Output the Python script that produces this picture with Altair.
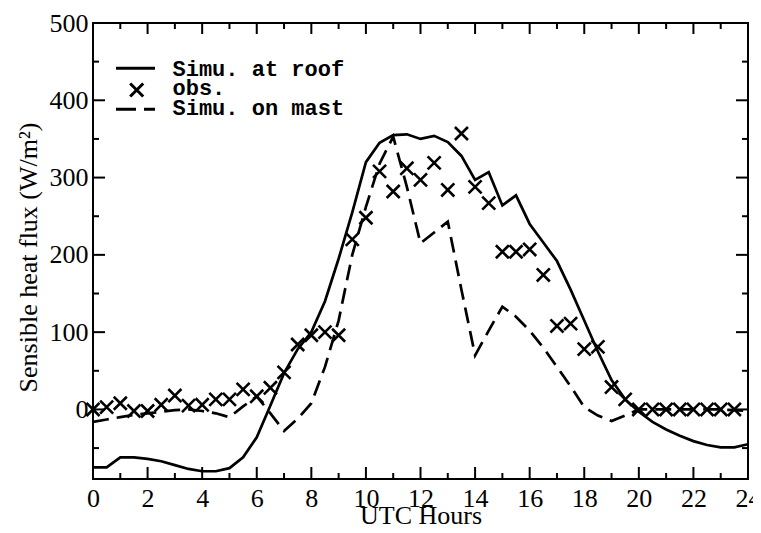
import altair as alt
import pandas as pd

# ---- data ----
hours = [0, 0.5, 1, 1.5, 2, 2.5, 3, 3.5, 4, 4.5, 5, 5.5, 6, 6.5, 7, 7.5, 8, 8.5,
         9, 9.5, 10, 10.5, 11, 11.5, 12, 12.5, 13, 13.5, 14, 14.5, 15, 15.5, 16,
         16.5, 17, 17.5, 18, 18.5, 19, 19.5, 20, 20.5, 21, 21.5, 22, 22.5, 23,
         23.5, 24]

roof = [-75, -75, -62, -62, -64, -67, -72, -77, -80, -80, -76, -62, -36, 5, 47,
        78, 100, 140, 195, 255, 320, 345, 355, 356, 350, 354, 346, 328, 297, 307,
        264, 277, 240, 216, 192, 155, 115, 75, 38, 13, -3, -16, -26, -34, -41,
        -46, -49, -49, -45]

mast = [-16, -13, -10, -7, -5, -3, -1, 0, -2, -5, -10, 4, 17, -5, -28, -12, 8,
        55, 115, 200, 262, 318, 353, 288, 215, 229, 243, 155, 70, 102, 133, 120,
        102, 80, 55, 30, 3, -8, -15, -8, 0, 0, 0, 0, 0, 0, 0, -1, -2]

obs_hours = hours[:-1]
obs = [0, 3, 8, -2, -2, 6, 18, 5, 6, 13, 13, 26, 17, 28, 48, 84, 96, 100, 96,
       220, 248, 308, 282, 312, 297, 319, 284, 357, 288, 267, 204, 204, 207,
       174, 108, 111, 78, 81, 29, 13, 0, 0, 0, 0, 0, 0, 0, 0]

series_names = ["Simu. at roof", "obs.", "Simu. on mast"]

x_major = [0, 2, 4, 6, 8, 10, 12, 14, 16, 18, 20, 22, 24]
x_minor = [1, 3, 5, 7, 9, 11, 13, 15, 17, 19, 21, 23]
y_major = [0, 100, 200, 300, 400, 500]
y_minor = [-50, 50, 150, 250, 350, 450]

W, H = 655, 456
SERIF = "Liberation Serif"
MONO = "Liberation Mono"
XPATH = "M-1,-1L1,1M-1,1L1,-1"
DASH = [20, 8]

xs = alt.Scale(domain=[0, 24], nice=False, zero=False)
ys = alt.Scale(domain=[-90, 500], nice=False, zero=False)

sim_df = pd.DataFrame({"hour": hours, "roof": roof, "mast": mast})
obs_df = pd.DataFrame({"hour": obs_hours, "flux": obs})

xaxis = alt.Axis(values=x_major, title="UTC Hours", ticks=False, domain=False,
                 grid=False, labelFont=SERIF, labelFontSize=26, labelColor="black",
                 labelPadding=6, labelFlush=False, labelOverlap=False,
                 titleFont=SERIF, titleFontSize=26, titleFontWeight="normal",
                 titleColor="black", titleBaseline="alphabetic", titleY=44)
yaxis = alt.Axis(values=y_major, title="Sensible heat flux (W/m\u00b2)", ticks=False,
                 domain=False, grid=False, labelFont=SERIF, labelFontSize=26,
                 labelColor="black", labelPadding=5, labelFlush=False,
                 labelOverlap=False, titleFont=SERIF, titleFontSize=26,
                 titleFontWeight="normal", titleColor="black",
                 titleBaseline="alphabetic", titleX=-57, titleY=234, titleAngle=-90)

base = alt.Chart(sim_df)

roof_line = base.mark_line(color="black", strokeWidth=2.7, clip=True).encode(
    x=alt.X("hour:Q", scale=xs, axis=xaxis),
    y=alt.Y("roof:Q", scale=ys, axis=yaxis),
)

mast_line = base.mark_line(color="black", strokeWidth=2.7, strokeDash=[16, 8],
                           clip=True).encode(
    x=alt.X("hour:Q", scale=xs),
    y=alt.Y("mast:Q", scale=ys),
)

obs_pts = alt.Chart(obs_df).mark_point(shape=XPATH, filled=False, color="black",
                                       strokeWidth=2.6, size=170, opacity=1).encode(
    x=alt.X("hour:Q", scale=xs),
    y=alt.Y("flux:Q", scale=ys),
)

# ---- inward ticks on all four sides ----
def xticks(vals, length, top):
    df = pd.DataFrame({"h": vals})
    if top:
        return alt.Chart(df).mark_rule(color="black", strokeWidth=2).encode(
            x=alt.X("h:Q", scale=xs), y=alt.value(0), y2=alt.value(length))
    return alt.Chart(df).mark_rule(color="black", strokeWidth=2).encode(
        x=alt.X("h:Q", scale=xs), y=alt.value(H), y2=alt.value(H - length))


def yticks(vals, length, right):
    df = pd.DataFrame({"v": vals})
    if right:
        return alt.Chart(df).mark_rule(color="black", strokeWidth=2).encode(
            y=alt.Y("v:Q", scale=ys), x=alt.value(W), x2=alt.value(W - length))
    return alt.Chart(df).mark_rule(color="black", strokeWidth=2).encode(
        y=alt.Y("v:Q", scale=ys), x=alt.value(0), x2=alt.value(length))


tick_layers = [
    xticks(x_major, 12, False), xticks(x_minor, 6, False),
    xticks(x_major, 11, True), xticks(x_minor, 6, True),
    yticks(y_major, 12, False), yticks(y_minor, 6, False),
    yticks(y_major, 12, True), yticks(y_minor, 6, True),
]

# ---- legend (top-left, inside plot) ----
legend_layers = []
for i, name in enumerate(series_names):
    row = pd.DataFrame({"label": [name]})
    legend_layers.append(
        alt.Chart(row).mark_text(align="left", baseline="alphabetic", font=MONO,
                                 fontWeight="bold", fontSize=22, color="black").encode(
            text="label:N", x=alt.value(79.5), y=alt.value(52.7 + 19.7 * i))
    )
sym = pd.DataFrame({"label": series_names})
legend_layers.append(
    alt.Chart(sym.iloc[[0]]).mark_rule(color="black", strokeWidth=3).encode(
        x=alt.value(23), x2=alt.value(62), y=alt.value(45.3)))
legend_layers.append(
    alt.Chart(sym.iloc[[1]]).mark_point(shape=XPATH, filled=False, color="black",
                                        strokeWidth=3, size=170, opacity=1).encode(
        x=alt.value(43.7), y=alt.value(67)))
legend_layers.append(
    alt.Chart(sym.iloc[[2]]).mark_rule(color="black", strokeWidth=3,
                                       strokeDash=DASH).encode(
        x=alt.value(23), x2=alt.value(62), y=alt.value(86.3)))

chart = alt.layer(roof_line, mast_line, obs_pts, *tick_layers, *legend_layers).properties(
    width=W, height=H,
    autosize=alt.AutoSizeParams(type="none"),
    padding={"left": 85, "top": 15, "right": 5, "bottom": 46},
    background="white",
).configure_view(stroke="black", strokeWidth=2)

chart.save("out.html", embed_options={"renderer": "svg", "actions": False})
